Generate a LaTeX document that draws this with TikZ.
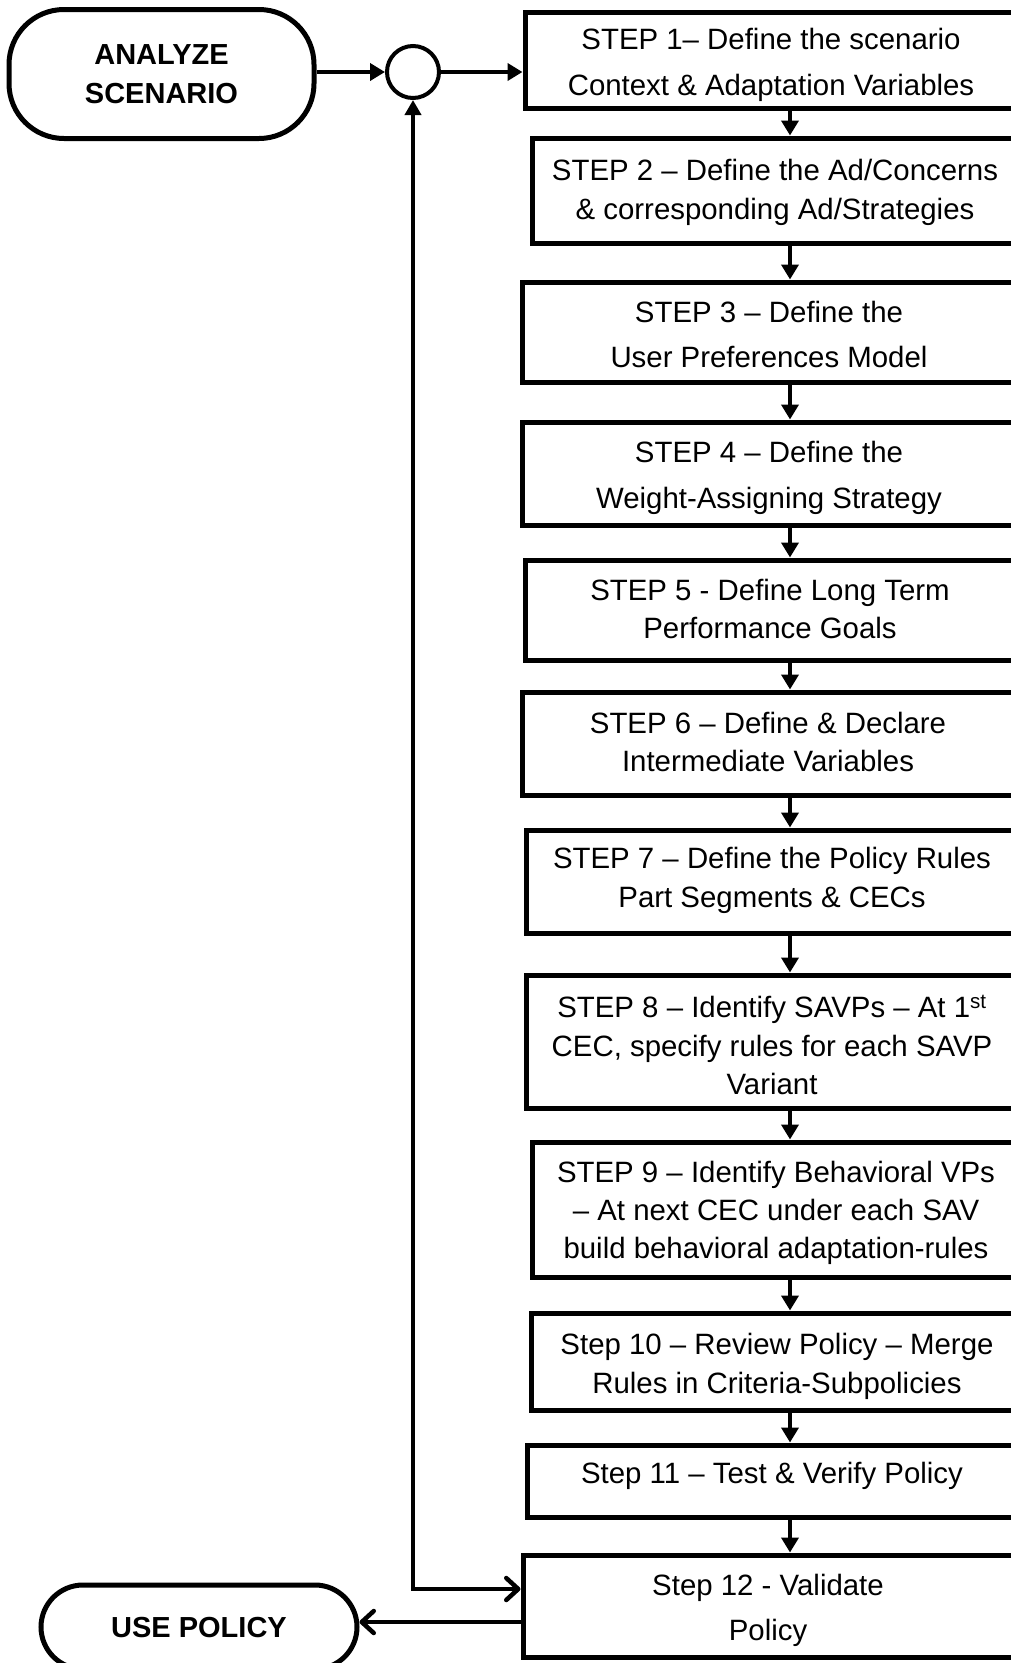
\documentclass[tikz,border=0pt]{standalone}
\usepackage{fontspec}
\setmainfont{Liberation Sans}
\usetikzlibrary{arrows.meta}

\tikzset{
  stepbox/.style={draw, line width=5pt, rectangle, inner sep=0pt},
  steptext/.style={font=\fontsize{29.4}{#1}\selectfont, align=center, inner sep=0pt},
  pill/.style={draw, line width=5pt, rectangle, align=center, inner sep=0pt,
               font=\bfseries\fontsize{29}{39}\selectfont},
  joint/.style={draw, circle, line width=4pt, inner sep=0pt, minimum size=52pt},
  flow/.style={line width=4.8pt, -{Triangle[length=15pt,width=17pt]}},
}

\begin{document}
\begin{tikzpicture}[x=1pt, y=-1pt]
  \useasboundingbox (0,0) rectangle (1011,1663);
  \fill[white] (0,0) rectangle (1011,1663);
  \clip (0,0) rectangle (1011,1663);

  % start / end terminals and the loop junction
  \node[pill, rounded corners=55pt, minimum width=305pt, minimum height=129pt]
    (ana) at (161.5,74) {ANALYZE\\SCENARIO};
  \node[pill, rounded corners=42pt, minimum width=316pt, minimum height=84pt]
    (use) at (199,1627) {USE POLICY};
  \node[joint] (jn) at (413,72) {};

  % step frames (they run on past the right margin)
  \node[stepbox, minimum width=515pt, minimum height=96pt]  (s1)  at (782.5,60)    {};
  \node[stepbox, minimum width=508pt, minimum height=105pt] (s2)  at (786,190.5)   {};
  \node[stepbox, minimum width=518pt, minimum height=100pt] (s3)  at (781,332)     {};
  \node[stepbox, minimum width=518pt, minimum height=103pt] (s4)  at (781,473.5)   {};
  \node[stepbox, minimum width=515pt, minimum height=100pt] (s5)  at (782.5,610)   {};
  \node[stepbox, minimum width=518pt, minimum height=103pt] (s6)  at (781,743.5)   {};
  \node[stepbox, minimum width=514pt, minimum height=103pt] (s7)  at (783,881.5)   {};
  \node[stepbox, minimum width=514pt, minimum height=133pt] (s8)  at (783,1041.5)  {};
  \node[stepbox, minimum width=508pt, minimum height=135pt] (s9)  at (786,1209.5)  {};
  \node[stepbox, minimum width=509pt, minimum height=97pt]  (s10) at (785.5,1361.5) {};
  \node[stepbox, minimum width=513pt, minimum height=72pt]  (s11) at (783.5,1481)  {};
  \node[stepbox, minimum width=517pt, minimum height=102pt] (s12) at (781.5,1606)  {};

  % step captions
  \node[steptext=45.5] (t1) at (771,65)
    {STEP 1-- Define the scenario\\Context \& Adaptation Variables};
  \node[steptext=39] (t2) at (775,192.5)
    {STEP 2 -- Define the Ad/Concerns\\\& corresponding Ad/Strategies};
  \node[steptext=45] (t3) at (769,334)
    {STEP 3 -- Define the\\User Preferences Model};
  \node[steptext=46] (t4) at (769,478)
    {STEP 4 -- Define the\\Weight-Assigning Strategy};
  \node[steptext=38] (t5) at (770,609)
    {STEP 5 - Define Long Term\\Performance Goals};
  \node[steptext=38] (t6) at (768,741.5)
    {STEP 6 -- Define \& Declare\\Intermediate Variables};
  \node[steptext=39] (t7) at (772,880)
    {STEP 7 -- Define the Policy Rules\\Part Segments \& CECs};
  \node[steptext=38.5] (t8) at (772,1045)
    {STEP 8 -- Identify SAVPs -- At 1\textsuperscript{st}\\CEC, specify rules for each SAVP\\Variant};
  \node[steptext=38] (t9) at (776,1213)
    {STEP 9 -- Identify Behavioral VPs\\-- At next CEC under each SAV\\build behavioral adaptation-rules};
  \node[steptext=39] (t10) at (777,1366.5)
    {Step 10 -- Review Policy -- Merge\\Rules in Criteria-Subpolicies};
  \node[steptext=38] (t11) at (772,1476)
    {Step 11 -- Test \& Verify Policy};
  \node[steptext=45] (t12) at (768,1610)
    {Step 12 - Validate\\Policy};

  % connectors
  \coordinate (ax) at (790,0);
  \draw[flow] (ana.east |- jn.west) -- (jn.west);
  \draw[flow] (jn.east) -- (jn.east -| s1.west);
  \foreach \a/\b in {s1/s2, s2/s3, s3/s4, s4/s5, s5/s6, s6/s7,
                     s7/s8, s8/s9, s9/s10, s10/s11, s11/s12}
    \draw[flow] (\a.south -| ax) -- (\b.north -| ax);

  % loop back from validation to the junction
  \draw[line width=4.5pt,
        {Triangle[length=15pt,width=16pt]}-{Straight Barb[length=12pt,width=22pt,round]}]
    (jn.south) |- ([yshift=17pt]s12.west);

  % release of the validated policy
  \draw[line width=4.5pt, -{Straight Barb[length=12pt,width=22pt,round]}]
    ([yshift=-16pt]s12.west) coordinate (uo) -- (uo -| use.east);
\end{tikzpicture}
\end{document}
